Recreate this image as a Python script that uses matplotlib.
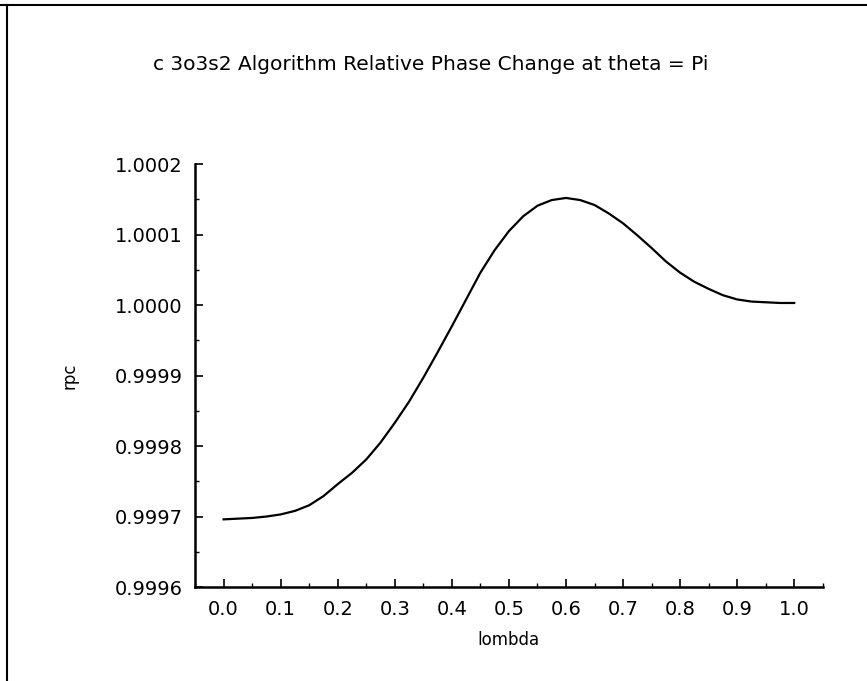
import numpy as np
import matplotlib
matplotlib.use("Agg")
from matplotlib import pyplot as plt
from matplotlib.lines import Line2D
from matplotlib.ticker import MultipleLocator, FormatStrFormatter

# values
lam = [0.000, 0.025, 0.050, 0.075, 0.100, 0.125, 0.150, 0.175, 0.200, 0.225,
       0.250, 0.275, 0.300, 0.325, 0.350, 0.375, 0.400, 0.425, 0.450, 0.475,
       0.500, 0.525, 0.550, 0.575, 0.600, 0.625, 0.650, 0.675, 0.700, 0.725,
       0.750, 0.775, 0.800, 0.825, 0.850, 0.875, 0.900, 0.925, 0.950, 0.975,
       1.000]
rpc = [0.999696, 0.999697, 0.999698, 0.999700, 0.999703, 0.999708, 0.999716,
       0.999729, 0.999746, 0.999762, 0.999781, 0.999805, 0.999833, 0.999863,
       0.999897, 0.999933, 0.999970, 1.000008, 1.000046, 1.000078, 1.000105,
       1.000126, 1.000141, 1.000149, 1.000152, 1.000149, 1.000142, 1.000130,
       1.000116, 1.000099, 1.000081, 1.000062, 1.000046, 1.000033, 1.000023,
       1.000014, 1.000008, 1.000005, 1.000004, 1.000003, 1.000003]

title = "c 3o3s2 Algorithm Relative Phase Change at theta = Pi"
x_label = "lombda"
y_label = "rpc"

fig = plt.figure(figsize=(8.67, 6.81), dpi=100)
ax = fig.add_axes([0.225, 0.138, 0.724, 0.621])

ax.plot(lam, rpc, color="black", lw=1.6)

ax.set_xlim(-0.05, 1.05)
ax.set_ylim(0.9996, 1.0002)
ax.xaxis.set_major_locator(MultipleLocator(0.1))
ax.xaxis.set_minor_locator(MultipleLocator(0.05))
ax.yaxis.set_major_locator(MultipleLocator(0.0001))
ax.yaxis.set_minor_locator(MultipleLocator(0.00005))
ax.xaxis.set_major_formatter(FormatStrFormatter("%.1f"))
ax.yaxis.set_major_formatter(FormatStrFormatter("%.4f"))
ax.set_xticks([v / 10 for v in range(11)])

for s in ["top", "right"]:
    ax.spines[s].set_visible(False)
for s in ["left", "bottom"]:
    ax.spines[s].set_linewidth(1.8)

ax.tick_params(which="major", direction="in", length=6, width=1.2,
               labelsize=14, pad=9)
ax.tick_params(which="minor", direction="in", length=3, width=1.0)

ax.set_xlabel(x_label, fontsize=12, labelpad=9)
ax.set_ylabel(y_label, fontsize=12, labelpad=26)

fig.text(0.497, 0.905, title, ha="center", va="center", fontsize=14.5)

# scanned page frame (top and left edges)
fig.add_artist(Line2D([0.0, 1.0], [0.993, 0.993], color="black", lw=1.5,
                      transform=fig.transFigure))
fig.add_artist(Line2D([0.008, 0.008], [0.0, 0.993], color="black", lw=1.5,
                      transform=fig.transFigure))

fig.savefig("out.png", dpi=100)
